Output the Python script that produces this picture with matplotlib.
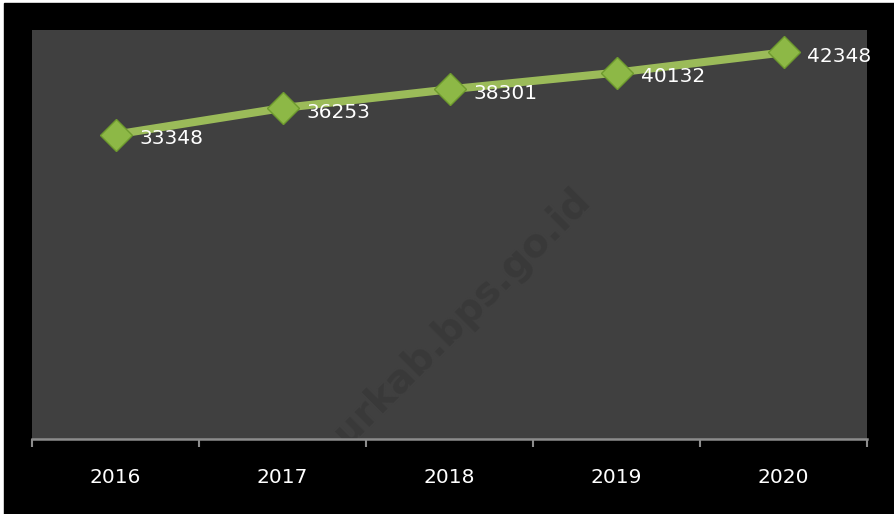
import matplotlib
matplotlib.use("Agg")
import matplotlib.pyplot as plt
from matplotlib.patches import Rectangle

years = ["2016", "2017", "2018", "2019", "2020"]
values = [33348, 36253, 38301, 40132, 42348]

W, H = 894, 514
fig = plt.figure(figsize=(W / 100, H / 100), dpi=100, facecolor="white")

# black frame with thin white edge on top/left
fig.patches.append(Rectangle((4 / W, -0.01), 1.01, 1.01 - 3 / H,
                             transform=fig.transFigure, color="black", zorder=-5))

ax = fig.add_axes([32 / W, 1 - 439 / H, 835 / W, 409 / H])
ax.set_zorder(2)
ax.set_facecolor("#404040")

x = list(range(len(years)))
ax.plot(x, values, color="#9BBB59", lw=5.8, solid_capstyle="butt", zorder=3)
ax.plot(x, values, ls="none", marker="D", ms=16, mfc="#8DB846",
        mec="#6E9A2E", mew=1.0, zorder=4)

for xi, v in zip(x, values):
    ax.annotate(str(v), (xi, v), xytext=(24, -4), textcoords="offset pixels",
                ha="left", va="center", color="white", fontsize=14.5,
                family="DejaVu Sans", zorder=5)

# faint watermark
wm = ax.text(0.515, 0.30, "urkab.bps.go.id", transform=ax.transAxes,
             rotation=45, ha="center", va="center", fontsize=28,
             fontweight="bold", color="#393939", zorder=1)
wm.set_clip_on(True)

ax.set_xlim(-0.5, len(years) - 0.5)
ax.set_ylim(0, 44800)
ax.set_yticks([])

ax.set_xticks(x)
ax.set_xticklabels(years, color="white", fontsize=14.5, family="DejaVu Sans")
ax.tick_params(axis="x", which="major", length=0, pad=21)
ax.set_xticks([i - 0.5 for i in range(len(years) + 1)], minor=True)
ax.tick_params(axis="x", which="minor", length=6, width=1.5,
               color="#8C8C8C", direction="out")

for side in ["top", "left", "right"]:
    ax.spines[side].set_visible(False)
ax.spines["bottom"].set_color("#8C8C8C")
ax.spines["bottom"].set_linewidth(1.8)

fig.savefig("out.png", dpi=100, facecolor=fig.get_facecolor())
